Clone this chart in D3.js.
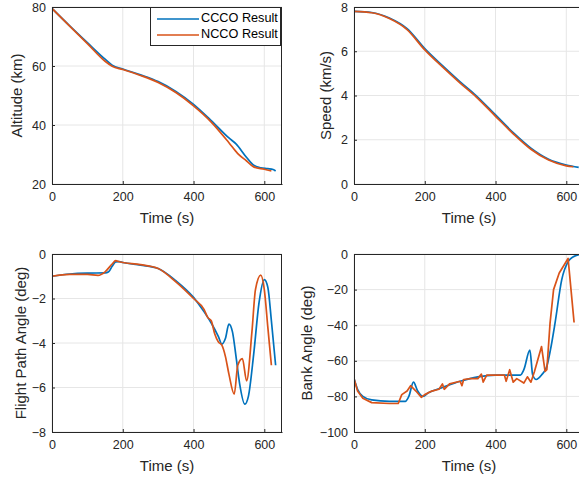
<!DOCTYPE html>
<html>
<head>
<meta charset="utf-8">
<script src="https://cdn.jsdelivr.net/npm/d3@7"></script>
<style>
  body { margin: 0; background: #fff; }
  svg { display: block; font-family: "Liberation Sans", Arial, sans-serif; }
</style>
</head>
<body>
<svg width="579" height="482"></svg>
<script>
// series names + colours
var seriesNames = ["CCCO Result", "NCCO Result"]
var seriesColors = ["#0072BD", "#D95319"]

// altitude (km)
var altT_c = [0,50,100,150,170,200,250,300,350,400,450,500,520,550,570,590,610,625,632]
var alt_c  = [79.5,73.6,67.9,62.3,60.3,59.0,57.0,54.7,51.4,47.0,41.5,35.6,33.6,29.0,26.4,25.5,25.2,24.9,24.4]
var altT_n = [0,50,100,150,170,200,250,300,350,400,450,500,525,550,570,600,620]
var alt_n  = [79.5,73.5,67.6,61.6,59.9,58.8,56.8,54.4,51.0,46.5,41.0,34.0,30.3,27.8,25.8,25.0,24.4]

// speed (km/s)
var spdT_c = [0,50,100,150,200,250,300,345,400,450,500,550,600,635]
var spd_c  = [7.8,7.75,7.5,7.02,6.12,5.35,4.62,4.0,3.12,2.32,1.62,1.12,0.86,0.75]
var spdT_n = [0,50,100,150,200,250,300,345,400,450,500,550,600,620]
var spd_n  = [7.8,7.74,7.48,6.98,6.06,5.29,4.56,3.94,3.06,2.27,1.57,1.08,0.82,0.78]

// flight path angle (deg)
var fpaT_c = [0,50,100,150,160,170,180,190,200,250,300,350,400,430,450,470,480,490,500,510,520,530,545,555,570,585,600,610,620,632]
var fpa_c  = [-1.0,-0.9,-0.86,-0.85,-0.8,-0.55,-0.35,-0.34,-0.38,-0.5,-0.65,-1.2,-1.95,-2.6,-3.1,-3.7,-4.05,-3.8,-3.15,-3.5,-4.6,-5.8,-6.75,-6.4,-4.5,-2.2,-1.15,-1.5,-3.0,-5.0]
var fpaT_n = [0,50,100,130,150,170,180,190,250,300,350,400,430,440,450,460,470,480,490,500,515,525,538,550,565,575,590,600,610,620]
var fpa_n  = [-1.0,-0.92,-0.92,-0.96,-0.8,-0.45,-0.3,-0.35,-0.48,-0.65,-1.25,-2.0,-2.5,-2.85,-3.0,-3.6,-3.95,-4.1,-4.6,-5.4,-6.3,-5.0,-4.7,-5.7,-3.5,-1.6,-0.95,-1.6,-3.3,-5.0]

// bank angle (deg)
var bankT_c = [0,10,25,50,100,145,155,168,180,195,210,250,300,350,400,450,470,480,497,505,515,530,545,555,568,587,606,620,636,645]
var bank_c  = [-70,-76,-80,-82,-82.8,-82.8,-80,-72,-77,-80,-78,-75,-71.5,-69,-68,-68,-68,-65,-54,-68,-70.5,-68,-63,-54,-39,-14.5,-4,-1.5,-0.3,0]
var bankT_n = [0,10,25,50,100,125,135,150,160,175,190,200,220,240,250,255,270,300,305,310,330,350,360,365,375,400,425,430,440,450,460,480,490,500,510,530,540,545,554,564,580,605,622]
var bank_n  = [-70,-77,-81,-83.5,-84,-84,-79,-77,-74,-77,-80.5,-79,-77,-76,-73,-76,-73,-71.5,-74,-70.5,-70,-70,-67.5,-72,-68,-68,-68,-71.5,-65,-72,-70,-72.5,-69,-72,-66,-52,-66,-65,-39,-20,-10.7,-2.5,-38.5]

var xTicks = [0,200,400,600]

function zip(t, v){ return t.map(function(d,i){ return [d, v[i]] }) }

var panels = [
  {x0:52, x1:282, y0:7, y1:184, ydom:[20,80], yticks:[20,40,60,80], ylabel:"Altitude (km)", ylx:18,
   lines:[zip(altT_c,alt_c), zip(altT_n,alt_n)], legend:true, smooth:[true,true]},
  {x0:354, x1:584, y0:7, y1:184, ydom:[0,8], yticks:[0,2,4,6,8], ylabel:"Speed (km/s)", ylx:327,
   lines:[zip(spdT_c,spd_c), zip(spdT_n,spd_n)], smooth:[true,true]},
  {x0:52, x1:282, y0:254, y1:432, ydom:[-8,0], yticks:[-8,-6,-4,-2,0], ylabel:"Flight Path Angle (deg)", ylx:22,
   lines:[zip(fpaT_c,fpa_c), zip(fpaT_n,fpa_n)], smooth:[true,true]},
  {x0:354, x1:584, y0:254, y1:432, ydom:[-100,0], yticks:[-100,-80,-60,-40,-20,0], ylabel:"Bank Angle (deg)", ylx:308,
   lines:[zip(bankT_c,bank_c), zip(bankT_n,bank_n)], smooth:[true,false]}
]

var svg = d3.select("svg")
var axisCol = "#262626"

panels.forEach(function(p, pi){
  var x = d3.scaleLinear().domain([0,650]).range([p.x0, p.x1])
  var y = d3.scaleLinear().domain(p.ydom).range([p.y1, p.y0])
  var g = svg.append("g")

  // grid
  g.selectAll(".gx").data(xTicks).enter().append("line")
    .attr("x1", d => x(d)).attr("x2", d => x(d))
    .attr("y1", p.y0).attr("y2", p.y1)
    .attr("stroke", "#e6e6e6").attr("stroke-width", 1)
  g.selectAll(".gy").data(p.yticks).enter().append("line")
    .attr("x1", p.x0).attr("x2", p.x1)
    .attr("y1", d => y(d)).attr("y2", d => y(d))
    .attr("stroke", "#e6e6e6").attr("stroke-width", 1)

  // lines
  var clipId = "clip" + pi
  svg.append("clipPath").attr("id", clipId).append("rect")
    .attr("x", p.x0).attr("y", p.y0).attr("width", p.x1 - p.x0).attr("height", p.y1 - p.y0)
  p.lines.forEach(function(pts, si){
    var line = d3.line().x(d => x(d[0])).y(d => y(d[1]))
      .curve(p.smooth[si] ? d3.curveMonotoneX : d3.curveLinear)
    g.append("path").datum(pts)
      .attr("d", line)
      .attr("fill", "none")
      .attr("stroke", seriesColors[si])
      .attr("stroke-width", 1.7)
      .attr("stroke-linejoin", "round")
      .attr("clip-path", "url(#" + clipId + ")")
  })

  // axes
  var xa = g.append("g").attr("transform", "translate(0," + p.y1 + ")")
    .call(d3.axisBottom(x).tickValues(xTicks).tickSizeInner(-3).tickSizeOuter(0).tickPadding(8))
  var ya = g.append("g").attr("transform", "translate(" + p.x0 + ",0)")
    .call(d3.axisLeft(y).tickValues(p.yticks).tickSizeInner(-3).tickSizeOuter(0).tickPadding(6))
  ;[xa, ya].forEach(function(a){
    a.select(".domain").attr("stroke", axisCol)
    a.selectAll(".tick line").attr("stroke", axisCol)
    a.selectAll("text").attr("fill", axisCol).style("font-size", "12.5px").style("font-family", null)
  })
  // box top/right
  g.append("line").attr("x1", p.x0).attr("x2", p.x1).attr("y1", p.y0 + 0.5).attr("y2", p.y0 + 0.5).attr("stroke", axisCol)
  g.append("line").attr("x1", p.x1 - 0.5).attr("x2", p.x1 - 0.5).attr("y1", p.y0).attr("y2", p.y1).attr("stroke", axisCol)

  // labels
  g.append("text").attr("x", x(325)).attr("y", p.y1 + 35)
    .attr("text-anchor", "middle").attr("dominant-baseline", "middle")
    .attr("fill", axisCol).style("font-size", "15px").text("Time (s)")
  g.append("text")
    .attr("transform", "translate(" + p.ylx + "," + ((p.y0 + p.y1) / 2) + ") rotate(-90)")
    .attr("text-anchor", "middle").attr("dominant-baseline", "middle")
    .attr("fill", axisCol).style("font-size", "15px").text(p.ylabel)

  if (p.legend) {
    var lg = g.append("g").attr("transform", "translate(150,7)")
    lg.append("rect").attr("x", 0.5).attr("y", 0.5).attr("width", 130).attr("height", 38)
      .attr("fill", "#fff").attr("stroke", axisCol)
    seriesNames.forEach(function(n, i){
      lg.append("line").attr("x1", 7).attr("x2", 49).attr("y1", 12 + i * 16).attr("y2", 12 + i * 16)
        .attr("stroke", seriesColors[i]).attr("stroke-width", 1.7)
      lg.append("text").attr("x", 51).attr("y", 12 + i * 16).attr("dominant-baseline", "middle")
        .attr("fill", "#000").style("font-size", "12.7px").text(n)
    })
  }
})
</script>
</body>
</html>
